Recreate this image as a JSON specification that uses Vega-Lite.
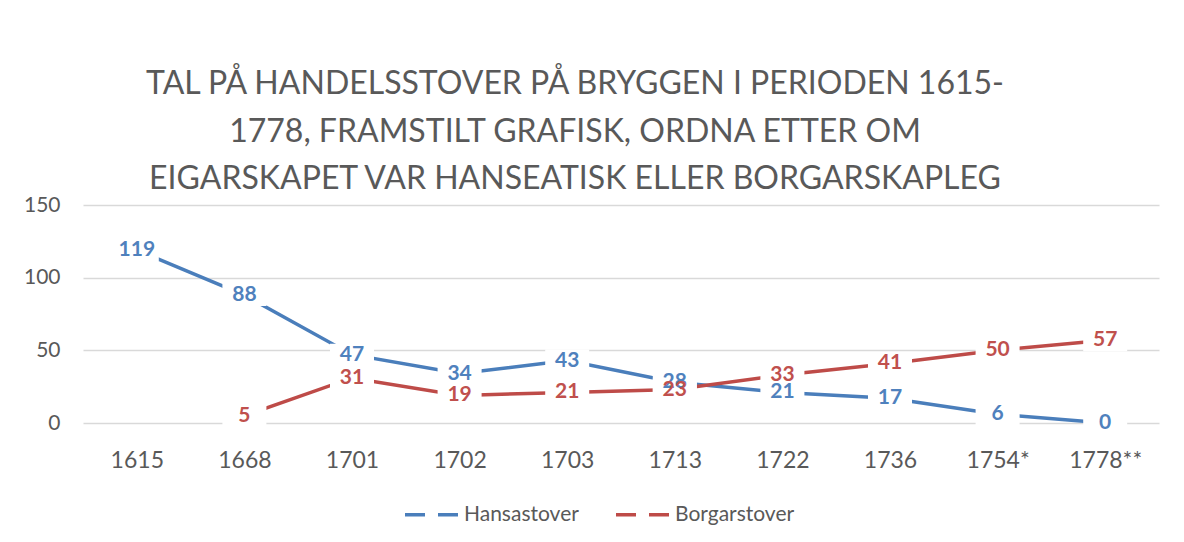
{
  "$schema": "https://vega.github.io/schema/vega-lite/v6.json",
  "width": 1076,
  "height": 218,
  "autosize": "none",
  "padding": {"left": 83, "top": 205, "right": 25, "bottom": 119},
  "background": "white",
  "config": {
    "view": {"stroke": null},
    "font": "Lato"
  },
  "title": {
    "text": ["TAL PÅ HANDELSSTOVER PÅ BRYGGEN I PERIODEN 1615-", "1778, FRAMSTILT GRAFISK, ORDNA ETTER OM", "EIGARSKAPET VAR HANSEATISK ELLER BORGARSKAPLEG"],
    "font": "Lato",
    "fontSize": 32,
    "fontWeight": "normal",
    "color": "#595959",
    "lineHeight": 47.5,
    "anchor": "middle",
    "frame": "group",
    "dx": -46,
    "offset": -2
  },
  "data": {
    "values": [
      {"year": "1615", "series": "Hansastover", "value": 119},
      {"year": "1668", "series": "Hansastover", "value": 88},
      {"year": "1701", "series": "Hansastover", "value": 47},
      {"year": "1702", "series": "Hansastover", "value": 34},
      {"year": "1703", "series": "Hansastover", "value": 43},
      {"year": "1713", "series": "Hansastover", "value": 28},
      {"year": "1722", "series": "Hansastover", "value": 21},
      {"year": "1736", "series": "Hansastover", "value": 17},
      {"year": "1754*", "series": "Hansastover", "value": 6},
      {"year": "1778**", "series": "Hansastover", "value": 0},
      {"year": "1668", "series": "Borgarstover", "value": 5},
      {"year": "1701", "series": "Borgarstover", "value": 31},
      {"year": "1702", "series": "Borgarstover", "value": 19},
      {"year": "1703", "series": "Borgarstover", "value": 21},
      {"year": "1713", "series": "Borgarstover", "value": 23},
      {"year": "1722", "series": "Borgarstover", "value": 33},
      {"year": "1736", "series": "Borgarstover", "value": 41},
      {"year": "1754*", "series": "Borgarstover", "value": 50},
      {"year": "1778**", "series": "Borgarstover", "value": 57}
    ]
  },
  "encoding": {
    "x": {
      "field": "year",
      "type": "ordinal",
      "sort": ["1615", "1668", "1701", "1702", "1703", "1713", "1722", "1736", "1754*", "1778**"],
      "scale": {"type": "point", "padding": 0.5},
      "axis": {
        "title": null,
        "labelAngle": 0,
        "domain": false,
        "ticks": false,
        "labelPadding": 26,
        "labelFontSize": 23,
        "labelColor": "#595959",
        "labelFont": "Lato"
      }
    },
    "y": {
      "field": "value",
      "type": "quantitative",
      "scale": {"domain": [0, 150], "nice": false},
      "axis": {
        "title": null,
        "values": [0, 50, 100, 150],
        "domain": false,
        "ticks": false,
        "labelPadding": 23,
        "labelFontSize": 21,
        "labelColor": "#595959",
        "labelFont": "Lato",
        "gridColor": "#D9D9D9",
        "gridWidth": 1.3
      }
    }
  },
  "layer": [
    {
      "mark": {"type": "line", "strokeWidth": 3.5},
      "encoding": {
        "color": {
          "field": "series",
          "type": "nominal",
          "scale": {"domain": ["Hansastover", "Borgarstover"], "range": ["#4A7EBB", "#BE4B48"]},
          "legend": {
            "title": null,
            "orient": "none",
            "direction": "horizontal",
            "legendX": 320,
            "legendY": 281,
            "symbolType": "stroke",
            "symbolSize": 2809,
            "symbolStrokeWidth": 3.5,
            "symbolDash": [20, 13],
            "labelFontSize": 21,
            "labelColor": "#595959",
            "labelFont": "Lato",
            "labelOffset": 4,
            "columnPadding": 30
          }
        }
      }
    },
    {
      "mark": {"type": "point", "shape": "M-1,-0.5H1V0.5H-1Z", "filled": true, "color": "white", "opacity": 1, "size": 1936, "strokeWidth": 0}
    },
    {
      "transform": [{"filter": "datum.series === 'Hansastover'"}],
      "mark": {"type": "text", "color": "#4F81BD", "fontWeight": "bold", "fontSize": 21, "font": "Lato", "baseline": "middle"},
      "encoding": {"text": {"field": "value", "type": "quantitative"}}
    },
    {
      "transform": [{"filter": "datum.series === 'Borgarstover'"}],
      "mark": {"type": "text", "color": "#C0504D", "fontWeight": "bold", "fontSize": 21, "font": "Lato", "baseline": "middle"},
      "encoding": {"text": {"field": "value", "type": "quantitative"}}
    }
  ]
}
